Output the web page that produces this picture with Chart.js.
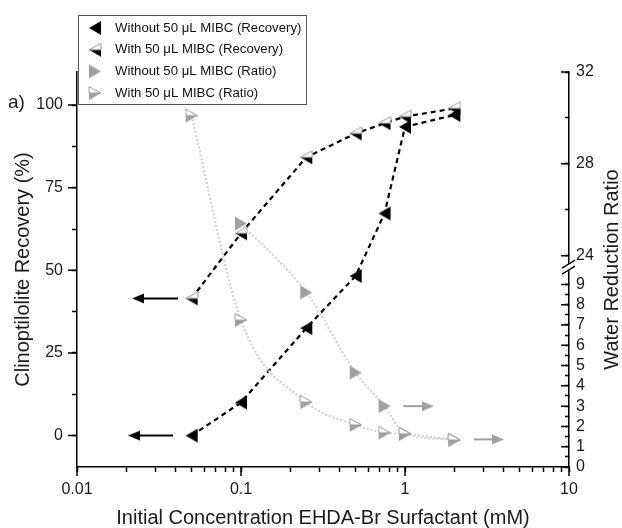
<!DOCTYPE html>
<html lang="en">
<head>
    <meta charset="UTF-8">
    <title>Clinoptilolite Recovery vs EHDA-Br</title>
    <style>
        body { margin: 0; background: #fff; }
        #wrap { width: 622px; height: 528px; }
    </style>
    <script src="https://cdn.jsdelivr.net/npm/chart.js"></script>
</head>
<body>
<div id="wrap"><canvas id="chart" width="622" height="528"></canvas></div>
<script>
    // data
    const concentrations = [0.05, 0.1, 0.25, 0.5, 0.75, 1, 2];          // mM
    const recoveryWithout = [0, 10, 32.5, 48.3, 67.2, 93.4, 97];         // %
    const recoveryWith = [41.5, 61.2, 84.2, 91.4, 94.5, 96.5, 99];       // %
    const ratioWithout = [null, 25.4, 8.6, 4.65, 3.0, 1.65, 1.35];
    const ratioWith = [30.1, 7.24, 3.2, 2.07, 1.69, 1.63, 1.33];

    const seriesLabels = [
        'Without 50 \u03bcL MIBC (Recovery)',
        'With 50 \u03bcL MIBC (Recovery)',
        'Without 50 \u03bcL MIBC (Ratio)',
        'With 50 \u03bcL MIBC (Ratio)'
    ];

    // axis arrows: [head x, tail x], y value
    const recArrowX = [[0.0236, 0.0413], [0.0223, 0.0385]];
    const recArrowY = [41.5, 0];
    const ratioArrowX = [[1.381, 0.976], [3.69, 2.63]];
    const ratioArrowY = [3.0, 1.36];

    // ticks
    const xTickLabels = [0.01, 0.1, 1, 10];
    const recoveryTicks = [0, 25, 50, 75, 100];
    const recoveryMinor = [12.5, 37.5, 62.5, 87.5];
    const ratioTicks = [0, 1, 2, 3, 4, 5, 6, 7, 8, 9, 24, 28, 32];
    const ratioMinor = [0.5, 1.5, 2.5, 3.5, 4.5, 5.5, 6.5, 7.5, 8.5, 26, 30];

    const FONT = "'Liberation Sans', Arial, sans-serif";

    // right axis break: lower part 0..lowMax, upper part highMin..highMax
    const ratioBreak = { lowMax: 9.85, highMin: 23.5, highMax: 32, frac: 0.506 };

    class BrokenScale extends Chart.LinearScale {
        buildTicks() {
            return ratioTicks.concat(ratioMinor).sort((a, b) => a - b).map(v => ({ value: v }));
        }
        frac(v) {
            const b = ratioBreak;
            if (v <= b.lowMax) return v / b.lowMax * b.frac;
            return b.frac + (v - b.highMin) / (b.highMax - b.highMin) * (1 - b.frac);
        }
        getPixelForValue(v) {
            return this.bottom - this.frac(v) * (this.bottom - this.top);
        }
        getValueForPixel(p) {
            const b = ratioBreak;
            const f = (this.bottom - p) / (this.bottom - this.top);
            if (f <= b.frac) return f / b.frac * b.lowMax;
            return b.highMin + (f - b.frac) / (1 - b.frac) * (b.highMax - b.highMin);
        }
    }
    BrokenScale.id = 'broken';
    BrokenScale.defaults = Chart.LinearScale.defaults;
    Chart.register(BrokenScale);

    function makeMarker(dir, fill, half) {
        const w = 14, h = 16;
        const c = document.createElement('canvas');
        c.width = w; c.height = h;
        const g = c.getContext('2d');
        const tip = dir === 'left' ? 1 : w - 1;
        const base = dir === 'left' ? w - 1 : 1;
        if (!half) {
            g.beginPath();
            g.moveTo(tip, h / 2); g.lineTo(base, 1); g.lineTo(base, h - 1);
            g.closePath();
            g.fillStyle = fill; g.fill();
            return c;
        }
        g.beginPath();
        g.moveTo(tip, h / 2); g.lineTo(base, h / 2); g.lineTo(base, h - 1);
        g.closePath();
        g.fillStyle = fill; g.fill();
        g.beginPath();
        g.moveTo(tip, h / 2); g.lineTo(base, 1.5); g.lineTo(base, h / 2);
        g.closePath();
        g.fillStyle = '#fff'; g.fill();
        g.strokeStyle = '#9a9a9a'; g.lineWidth = 1; g.stroke();
        return c;
    }

    function makeHead(dir, fill) {
        const w = 12, h = 11;
        const c = document.createElement('canvas');
        c.width = w; c.height = h;
        const g = c.getContext('2d');
        const tip = dir === 'left' ? 0 : w;
        const base = dir === 'left' ? w : 0;
        g.beginPath();
        g.moveTo(tip, h / 2); g.lineTo(base, 0.5); g.lineTo(base, h - 0.5);
        g.closePath();
        g.fillStyle = fill; g.fill();
        return c;
    }

    const GRAY = '#a0a0a0';
    const markers = [
        makeMarker('left', '#000', false),
        makeMarker('left', '#000', true),
        makeMarker('right', GRAY, false),
        makeMarker('right', GRAY, true)
    ];

    function pts(ys) {
        return concentrations.map((x, i) => ({ x: x, y: ys[i] })).filter(p => p.y !== null);
    }

    function arrowSet(xs, y, axis, color, head) {
        return {
            data: [{ x: xs[0], y: y }, { x: xs[1], y: y }],
            yAxisID: axis,
            borderColor: color,
            borderWidth: 2,
            pointStyle: [head, 'circle'],
            pointRadius: [6, 0],
            order: 10
        };
    }

    const datasets = [
        {
            label: seriesLabels[0], data: pts(recoveryWithout), yAxisID: 'y',
            borderColor: '#000', borderWidth: 2.2, borderDash: [5, 4],
            pointStyle: markers[0], pointRadius: 7, order: 4
        },
        {
            label: seriesLabels[1], data: pts(recoveryWith), yAxisID: 'y',
            borderColor: '#000', borderWidth: 2.2, borderDash: [5, 4],
            pointStyle: markers[1], pointRadius: 7, order: 3
        },
        {
            label: seriesLabels[2], data: pts(ratioWithout), yAxisID: 'y2',
            borderColor: '#d2d2d2', borderWidth: 2.2, borderDash: [2, 2],
            cubicInterpolationMode: 'monotone',
            pointStyle: markers[2], pointRadius: 7, order: 2
        },
        {
            label: seriesLabels[3], data: pts(ratioWith), yAxisID: 'y2',
            borderColor: '#d2d2d2', borderWidth: 2.2, borderDash: [2, 2],
            cubicInterpolationMode: 'monotone',
            pointStyle: markers[3], pointRadius: 7, order: 1
        }
    ];
    recArrowX.forEach((xs, i) => datasets.push(arrowSet(xs, recArrowY[i], 'y', '#000', makeHead('left', '#000'))));
    ratioArrowX.forEach((xs, i) => datasets.push(arrowSet(xs, ratioArrowY[i], 'y2', GRAY, makeHead('right', GRAY))));

    const isDecade = v => Math.abs(Math.log10(v) - Math.round(Math.log10(v))) < 1e-9;
    const xAllTicks = [];
    for (let e = -2; e <= 0; e++) {
        for (let m = 1; m <= 9; m++) xAllTicks.push(m * Math.pow(10, e));
    }
    xAllTicks.push(10);

    // extra drawing: legend box, panel label, right title, long major ticks, axis break
    const decorations = {
        id: 'decorations',
        afterDraw(chart) {
            const ctx = chart.ctx;
            const sx = chart.scales.x, sy = chart.scales.y, sr = chart.scales.y2;
            ctx.save();
            ctx.strokeStyle = '#000';
            ctx.lineWidth = 1.5;
            // major ticks longer than minor ones
            ctx.beginPath();
            xTickLabels.forEach(v => {
                const px = sx.getPixelForValue(v);
                ctx.moveTo(px, sx.top); ctx.lineTo(px, sx.top + 9);
            });
            recoveryTicks.forEach(v => {
                const py = sy.getPixelForValue(v);
                ctx.moveTo(sy.right, py); ctx.lineTo(sy.right - 9, py);
            });
            ratioTicks.forEach(v => {
                const py = sr.getPixelForValue(v);
                ctx.moveTo(sr.left, py); ctx.lineTo(sr.left - 8, py);
            });
            ctx.stroke();

            // axis break on the right axis
            const yb = sr.bottom - ratioBreak.frac * (sr.bottom - sr.top);
            ctx.fillStyle = '#fff';
            ctx.fillRect(sr.left - 2, yb - 3, 4, 6);
            ctx.beginPath();
            ctx.lineWidth = 1.3;
            ctx.moveTo(sr.left - 7, yb + 1); ctx.lineTo(sr.left + 6, yb - 7);
            ctx.moveTo(sr.left - 7, yb + 7); ctx.lineTo(sr.left + 6, yb - 1);
            ctx.stroke();

            // right axis title, reading bottom to top
            ctx.fillStyle = '#1a1a1a';
            ctx.font = '20px ' + FONT;
            ctx.textAlign = 'center';
            ctx.textBaseline = 'middle';
            ctx.save();
            ctx.translate(612, (sr.top + sr.bottom) / 2);
            ctx.rotate(-Math.PI / 2);
            ctx.fillText('Water Reduction Ratio', 0, 0);
            ctx.restore();

            // panel label
            ctx.textAlign = 'left';
            ctx.font = '19px ' + FONT;
            ctx.fillText('a)', 8, 103);

            // legend
            ctx.fillStyle = '#fff';
            ctx.fillRect(78, 15, 229, 90);
            ctx.strokeStyle = '#555';
            ctx.lineWidth = 1;
            ctx.strokeRect(78.5, 15.5, 228, 89);
            ctx.font = '13.2px ' + FONT;
            ctx.fillStyle = '#111';
            seriesLabels.forEach((label, i) => {
                const y = 28 + i * 21.7;
                const m = markers[i];
                ctx.drawImage(m, 95 - m.width / 2, y - m.height / 2);
                ctx.fillText(label, 115, y);
            });
            ctx.restore();
        }
    };

    new Chart(document.getElementById('chart'), {
        type: 'line',
        data: { datasets: datasets },
        options: {
            responsive: false,
            animation: false,
            devicePixelRatio: 1,
            layout: { padding: { top: 72, left: 0, right: 0, bottom: 0 } },
            plugins: { legend: { display: false }, tooltip: { enabled: false } },
            scales: {
                x: {
                    type: 'logarithmic',
                    position: 'bottom',
                    min: 0.01,
                    max: 10,
                    afterFit: s => { s.height = 61; },
                    afterBuildTicks: s => { s.ticks = xAllTicks.map(v => ({ value: v })); },
                    border: { color: '#000', width: 1.5 },
                    grid: { drawOnChartArea: false, tickLength: 5, color: '#000', tickWidth: 1.5 },
                    ticks: {
                        autoSkip: false, maxRotation: 0, padding: 8, color: '#1a1a1a',
                        font: { family: FONT, size: 16 },
                        callback: v => isDecade(v) ? String(v) : ''
                    },
                    title: {
                        display: true, text: 'Initial Concentration EHDA-Br Surfactant (mM)',
                        color: '#1a1a1a', font: { family: FONT, size: 20, lineHeight: 1 },
                        padding: { top: 0, bottom: 0 }
                    }
                },
                y: {
                    type: 'linear',
                    position: 'left',
                    min: -9.5,
                    max: 110,
                    afterFit: s => { s.width = 77; },
                    afterBuildTicks: s => {
                        s.ticks = recoveryTicks.concat(recoveryMinor).sort((a, b) => a - b).map(v => ({ value: v }));
                    },
                    border: { color: '#000', width: 1.5 },
                    grid: { drawOnChartArea: false, tickLength: 5, color: '#000', tickWidth: 1.5 },
                    ticks: {
                        autoSkip: false, padding: 9, color: '#1a1a1a',
                        font: { family: FONT, size: 16 },
                        callback: v => recoveryTicks.includes(v) ? String(v) : ''
                    },
                    title: {
                        display: true, text: 'Clinoptilolite Recovery (%)',
                        color: '#1a1a1a', font: { family: FONT, size: 20, lineHeight: 1.2 },
                        padding: { top: 11, bottom: 0 }
                    }
                },
                y2: {
                    type: 'broken',
                    position: 'right',
                    min: 0,
                    max: 32,
                    afterFit: s => { s.width = 53; },
                    border: { color: '#000', width: 1.5 },
                    grid: { drawOnChartArea: false, tickLength: -4, color: '#000', tickWidth: 1.5 },
                    ticks: {
                        autoSkip: false, padding: 11, color: '#1a1a1a',
                        font: { family: FONT, size: 16 },
                        callback: v => ratioTicks.includes(v) ? String(v) : ''
                    }
                }
            }
        },
        plugins: [decorations]
    });
</script>
</body>
</html>
